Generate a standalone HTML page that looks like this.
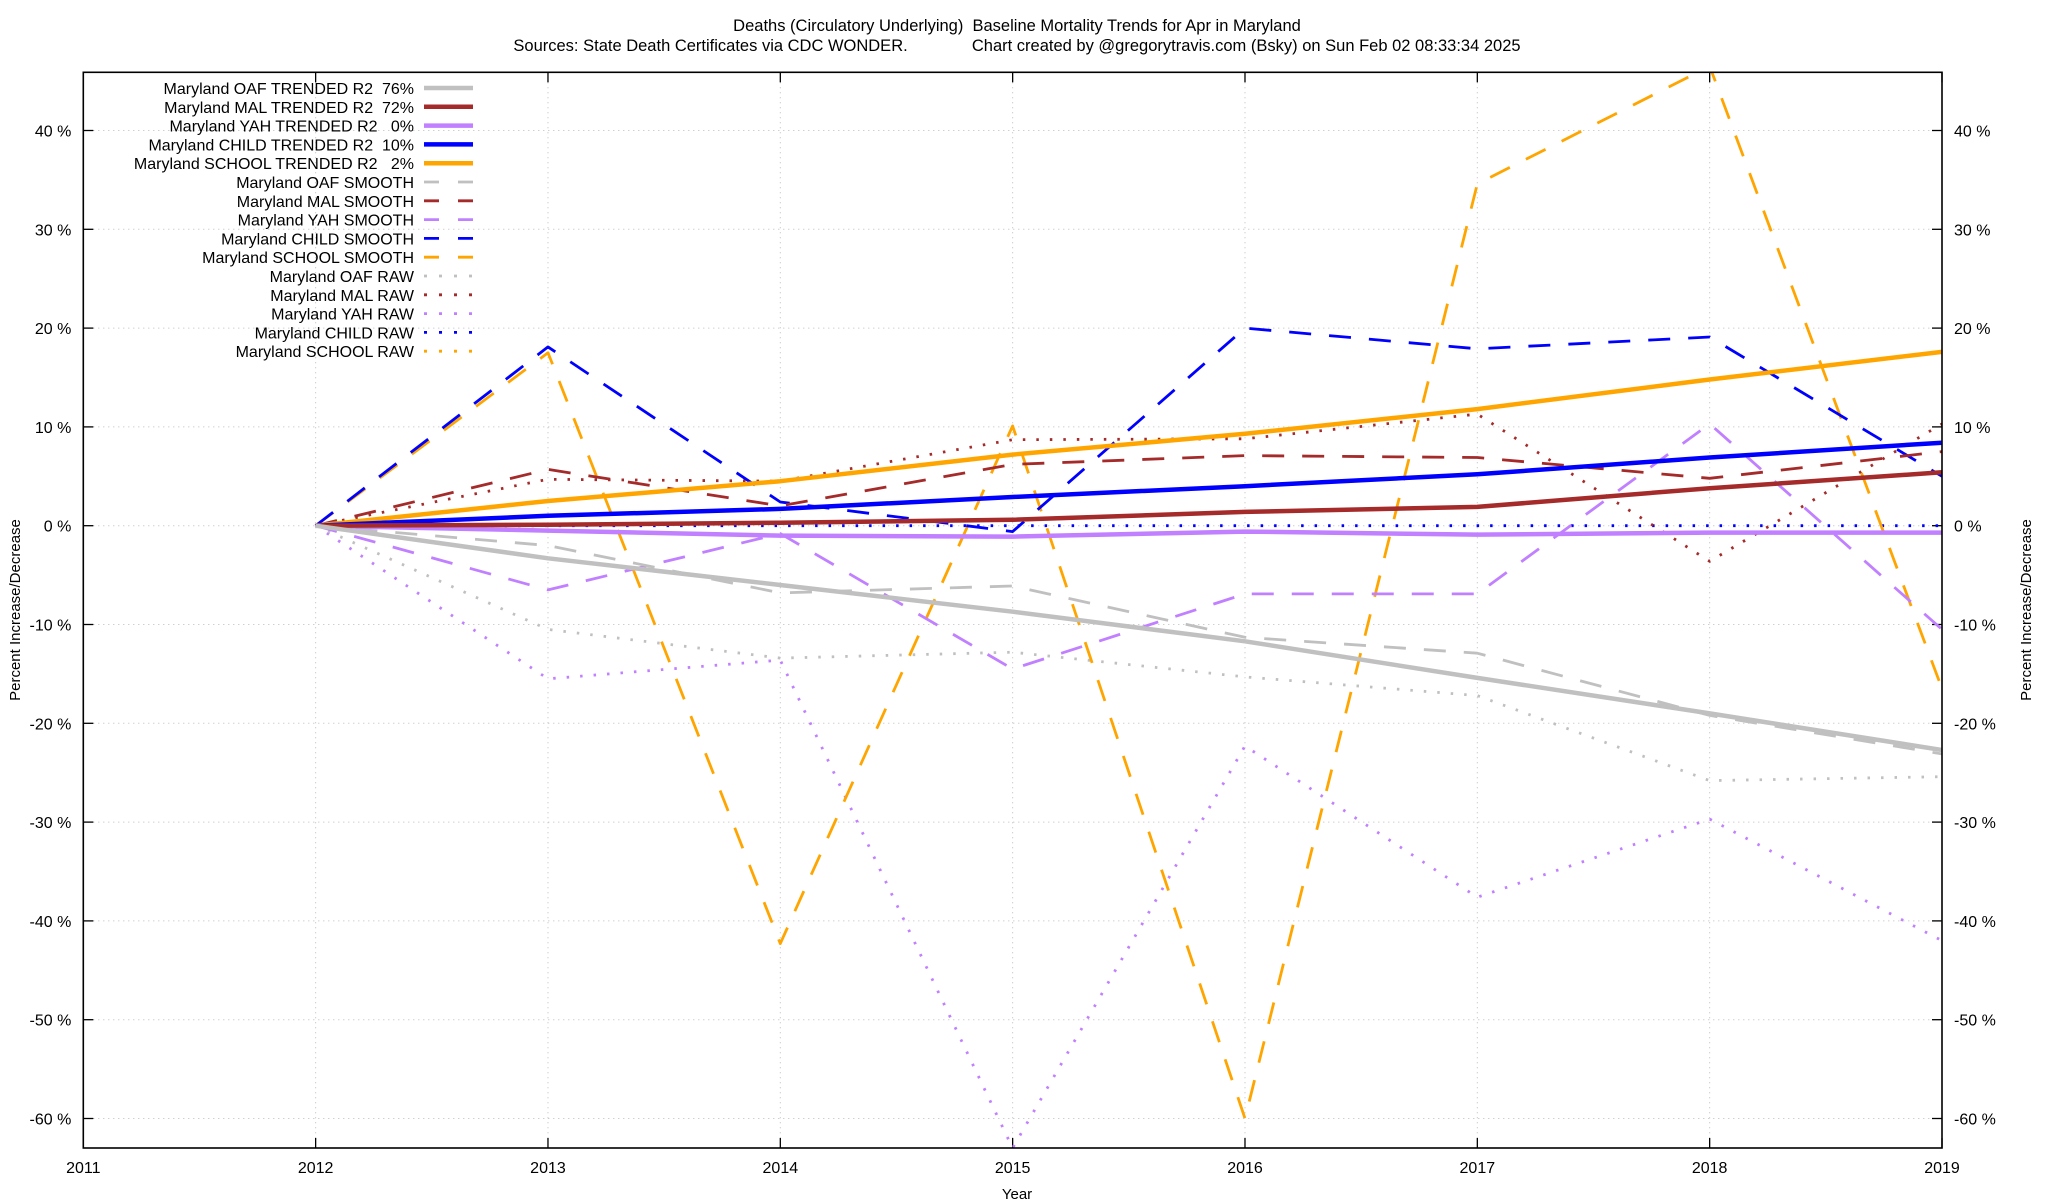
<!DOCTYPE html>
<html><head><meta charset="utf-8"><style>
html,body{margin:0;padding:0;background:#fff;}
svg{display:block;font-family:"Liberation Sans",sans-serif;}
text{white-space:pre;}
</style></head><body>
<svg id="chart" width="2048" height="1200" viewBox="0 0 2048 1200"></svg>
<script>
const years = [2012,2013,2014,2015,2016,2017,2018,2019];
const xTicks = [2011,2012,2013,2014,2015,2016,2017,2018,2019];
const yTicks = [-60,-50,-40,-30,-20,-10,0,10,20,30,40];
const oafTrend = [0,-3.3,-6,-8.7,-11.7,-15.4,-19,-22.7];
const malTrend = [0,0.1,0.3,0.6,1.4,1.9,3.8,5.4];
const yahTrend = [0,-0.5,-1,-1.1,-0.6,-0.9,-0.7,-0.7];
const childTrend = [0,1,1.7,2.9,4,5.2,6.9,8.4];
const schoolTrend = [0,2.5,4.5,7.2,9.3,11.8,14.8,17.6];
const oafSmooth = [0,-2,-6.8,-6.1,-11.3,-12.9,-19.2,-23.1];
const malSmooth = [0,5.7,2,6.2,7.1,6.9,4.8,7.5];
const yahSmooth = [0,-6.5,-0.8,-14.5,-6.9,-6.9,10.3,-10.5];
const childSmooth = [0,18.1,2.4,-0.6,20,17.9,19.1,5];
const schoolSmooth = [0,17.5,-42.3,10.1,-60,34.6,46.5,-16.5];
const oafRaw = [0,-10.5,-13.4,-12.8,-15.3,-17.2,-25.8,-25.4];
const malRaw = [0,4.7,4.5,8.7,8.8,11.3,-3.6,10.3];
const yahRaw = [0,-15.5,-13.6,-63,-22.3,-37.6,-29.7,-42];
const childRaw = [0,0,0,0,0,0,0,0];
const schoolRaw = [0,17.5,-42.3,10.1,-60,34.6,46.5,-16.5];

const L=83.3,R=1942,T=72.3,B=1148;
const x = v => L + (v-2011)*(R-L)/8;
const y = v => 525.7 - v*9.88;
const svg=document.getElementById('chart');
const NS='http://www.w3.org/2000/svg';
function mk(tag,attrs,parent){const e=document.createElementNS(NS,tag);for(const k in attrs)e.setAttribute(k,attrs[k]);(parent||svg).appendChild(e);return e;}

const defs=mk('defs',{});
const cp=mk('clipPath',{id:'clip'},defs);
mk('rect',{x:L,y:T,width:R-L,height:B-T},cp);

const grid=mk('g',{});


yTicks.forEach(v=>{
  mk('line',{x1:L,x2:R,y1:y(v),y2:y(v),stroke:'#bbb','stroke-width':1,'stroke-dasharray':'1 4'},grid);
  mk('line',{x1:L,x2:L+10,y1:y(v),y2:y(v),stroke:'#000','stroke-width':1.3});
  mk('line',{x1:R-10,x2:R,y1:y(v),y2:y(v),stroke:'#000','stroke-width':1.3});
  const a=mk('text',{x:L-12,y:y(v)+6,'text-anchor':'end','font-size':16});
  a.textContent=v+' %';
  
  
  const b=mk('text',{x:R+12,y:y(v)+6,'text-anchor':'start','font-size':16});
  b.textContent=v+' %';
  
  
});
xTicks.forEach(v=>{
  mk('line',{x1:x(v),x2:x(v),y1:T,y2:B,stroke:'#bbb','stroke-width':1,'stroke-dasharray':'1 4'},grid);
  mk('line',{x1:x(v),x2:x(v),y1:B,y2:B-10,stroke:'#000','stroke-width':1.3});
  mk('line',{x1:x(v),x2:x(v),y1:T,y2:T+10,stroke:'#000','stroke-width':1.3});
  const t=mk('text',{x:x(v),y:B+25,'text-anchor':'middle','font-size':16});
  t.textContent=v;
  
  
});

const C={oaf:'#c0c0c0',mal:'#a52a2a',yah:'#c080ff',child:'#0000ff',school:'#ffa500'};
const series=[
 ['Maryland OAF TRENDED R2  76%',oafTrend,C.oaf,'solid','oaf-trended-line',true],
 ['Maryland MAL TRENDED R2  72%',malTrend,C.mal,'solid','mal-trended-line',true],
 ['Maryland YAH TRENDED R2   0%',yahTrend,C.yah,'solid','yah-trended-line',true],
 ['Maryland CHILD TRENDED R2  10%',childTrend,C.child,'solid','child-trended-line',true],
 ['Maryland SCHOOL TRENDED R2   2%',schoolTrend,C.school,'solid','school-trended-line',true],
 ['Maryland OAF SMOOTH',oafSmooth,C.oaf,'dash','oaf-smooth-line',true],
 ['Maryland MAL SMOOTH',malSmooth,C.mal,'dash','mal-smooth-line',true],
 ['Maryland YAH SMOOTH',yahSmooth,C.yah,'dash','yah-smooth-line',true],
 ['Maryland CHILD SMOOTH',childSmooth,C.child,'dash','child-smooth-line',true],
 ['Maryland SCHOOL SMOOTH',schoolSmooth,C.school,'dash','school-smooth-line',true],
 ['Maryland OAF RAW',oafRaw,C.oaf,'dot','oaf-raw-line',true],
 ['Maryland MAL RAW',malRaw,C.mal,'dot','mal-raw-line',true],
 ['Maryland YAH RAW',yahRaw,C.yah,'dot','yah-raw-line',true],
 ['Maryland CHILD RAW',childRaw,C.child,'dot','child-raw-line',true],
 ['Maryland SCHOOL RAW',schoolRaw,C.school,'dot','school-raw-line',false]
];
function style(kind){
  if(kind==='solid')return {'stroke-width':4.5};
  if(kind==='dash')return {'stroke-width':2.8,'stroke-dasharray':'22 18'};
  return {'stroke-width':2.8,'stroke-dasharray':'2.5 11','stroke-linecap':'butt'};
}
const plot=mk('g',{'clip-path':'url(#clip)'});
for(let i=series.length-1;i>=0;i--){
  const s=series[i];
  if(!s[5])continue;
  const pts=s[1].map((v,j)=>x(years[j]).toFixed(1)+','+y(v).toFixed(1)).join(' ');
  const a=Object.assign({points:pts,fill:'none',stroke:s[2],'stroke-linejoin':'round'},style(s[3]));
  const p=mk('polyline',a,plot);
  
  
}
const lg=mk('g',{});


series.forEach((s,i)=>{
  const yy=88+i*18.8;
  const t=mk('text',{x:414,y:yy+6,'text-anchor':'end','font-size':16},lg);
  t.textContent=s[0];
  
  
  const a=Object.assign({x1:424,x2:473,y1:yy,y2:yy,stroke:s[2]},style(s[3]));
  if(s[3]==='dash')a['stroke-dasharray']='15 19';
  if(s[3]==='dot')a['stroke-dasharray']='3 12';
  const l=mk('line',a,lg);
  
  
});
const fr=mk('rect',{x:L,y:T,width:R-L,height:B-T,fill:'none',stroke:'#000','stroke-width':1.6});


const t1=mk('text',{x:1017,y:31,'text-anchor':'middle','font-size':16.5});
t1.textContent='Deaths (Circulatory Underlying)  Baseline Mortality Trends for Apr in Maryland';


const t2=mk('text',{x:1017,y:51,'text-anchor':'middle','font-size':16.5});
t2.textContent='Sources: State Death Certificates via CDC WONDER.              Chart created by @gregorytravis.com (Bsky) on Sun Feb 02 08:33:34 2025';


const xl=mk('text',{x:1017,y:1199,'text-anchor':'middle','font-size':15});
xl.textContent='Year';


const yl=mk('text',{x:0,y:0,'text-anchor':'middle','font-size':15,transform:'translate(20,610) rotate(-90)'});
yl.textContent='Percent Increase/Decrease';


const yr=mk('text',{x:0,y:0,'text-anchor':'middle','font-size':15,transform:'translate(2031,610) rotate(-90)'});
yr.textContent='Percent Increase/Decrease';


</script>
</body></html>
